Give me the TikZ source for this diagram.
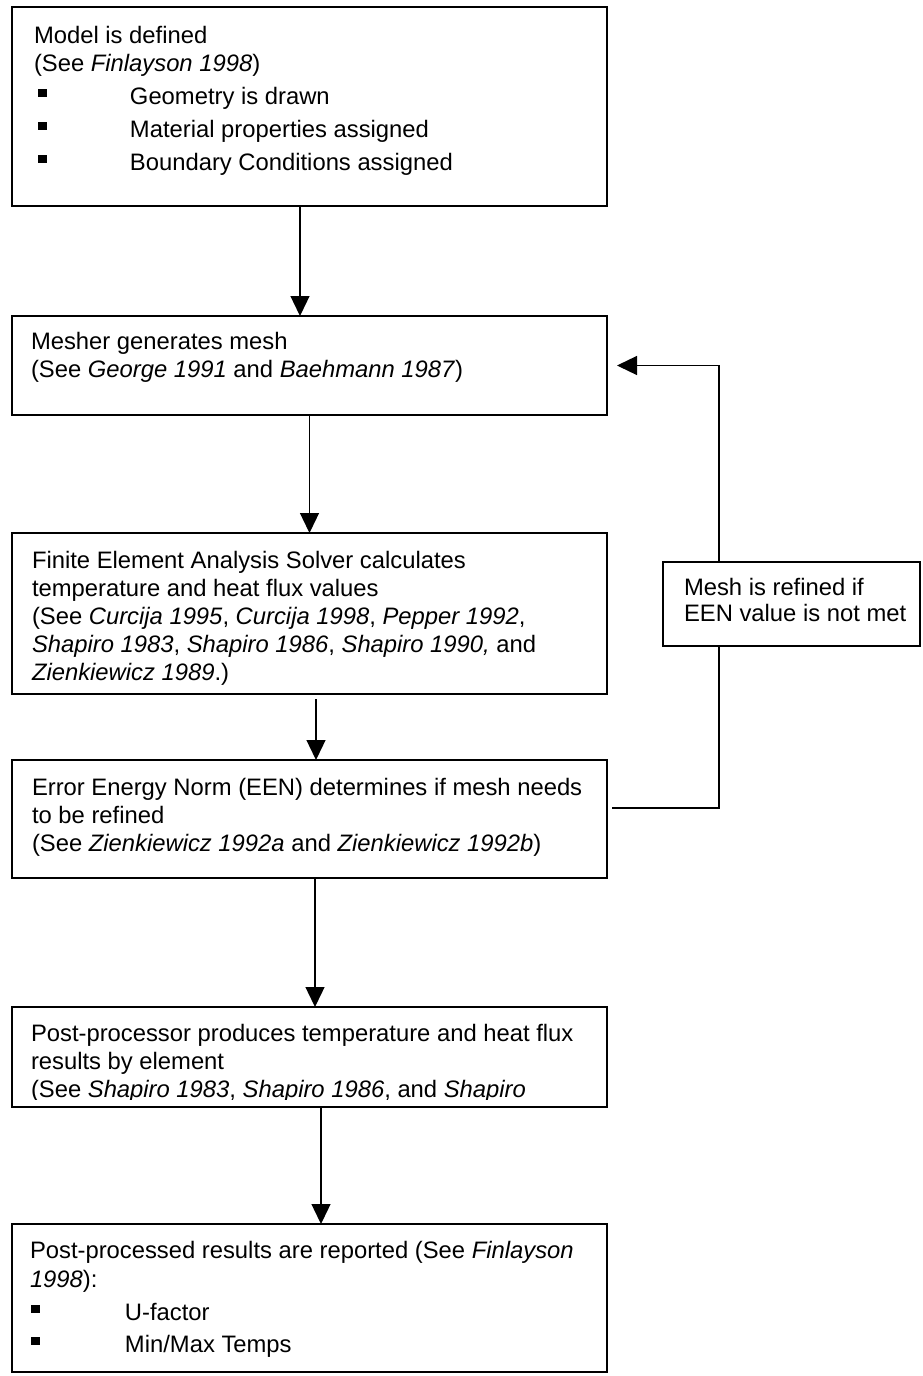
\documentclass[tikz,border=0pt]{standalone}
\usepackage{fontspec}
\setmainfont{Liberation Sans}
\usetikzlibrary{arrows.meta}
\newcommand\bulA{\makebox[96pt][l]{\hspace*{4pt}\rule[7pt]{9pt}{8.5pt}}}
\newcommand\bulB{\makebox[95pt][l]{\hspace*{1pt}\rule[7pt]{9pt}{8.5pt}}}
\newcommand\fstrut{\rule{0pt}{19pt}}
\begin{document}
\begin{tikzpicture}[x=1pt,y=-1pt,
  box/.style={draw, line width=1.8pt, inner sep=0pt, outer sep=0pt, anchor=north west, minimum width=595pt},
  txt/.style={anchor=north west, inner sep=0pt, outer sep=0pt, align=left, font=\fontsize{23.8}{28}\selectfont},
  conn/.style={line width=1.3pt},
  arr/.style={conn, -{Triangle[length=20pt,width=19pt]}}]
\useasboundingbox (0,0) rectangle (922,1376);
\fill[white] (0,0) rectangle (922,1376);

% boxes
\node[box, minimum height=199pt] (b1) at (12,7) {};
\node[box, minimum height=99pt] (b2) at (12,316) {};
\node[box, minimum height=161pt] (b3) at (12,533) {};
\node[box, minimum height=118pt] (b4) at (12,760) {};
\node[box, minimum height=100pt] (b5) at (12,1007) {};
\node[box, minimum height=148pt] (b6) at (12,1224) {};
\node[box, minimum width=257pt, minimum height=84pt] (side) at (663,562) {};

% texts
\node[txt] (t1) at (34,24) {\fstrut Model is defined\\
(See \textit{Finlayson 1998})\\[5pt]
\bulA Geometry is drawn\\[5pt]
\bulA Material properties assigned\\[5pt]
\bulA Boundary Conditions assigned};

\node[txt] (t2) at (31,330) {\fstrut Mesher generates mesh\\
(See \textit{George 1991} and \textit{Baehmann 1987})};

\node[txt] (t3) at (32,549) {\fstrut Finite Element Analysis Solver calculates\\
temperature and heat flux values\\
(See \textit{Curcija 1995}, \textit{Curcija 1998}, \textit{Pepper 1992},\\
\textit{Shapiro 1983}, \textit{Shapiro 1986}, \textit{Shapiro 1990,} and\\
\textit{Zienkiewicz 1989}.)};

\node[txt] (t4) at (32,776) {\fstrut Error Energy Norm (EEN) determines if mesh needs\\
to be refined\\
(See \textit{Zienkiewicz 1992a} and \textit{Zienkiewicz 1992b})};

\begin{scope}
\clip (12,1007) rectangle (607,1099);
\node[txt] (t5) at (31,1022) {\fstrut Post-processor produces temperature and heat flux\\
results by element\\
(See \textit{Shapiro 1983}, \textit{Shapiro 1986}, and \textit{Shapiro}};
\end{scope}

\node[txt] (t6) at (30,1239) {\fstrut Post-processed results are reported (See \textit{Finlayson}\\[1pt]
\textit{1998}):\\[5pt]
\bulB U-factor\\[4pt]
\bulB Min/Max Temps};

\node[txt] (ts) at (684,576) {\fstrut Mesh is refined if\\[-2pt]
EEN value is not met};

% connectors
\draw[arr] ([xshift=-9.5pt]b1.south) -- ([xshift=-9.5pt]b2.north);
\draw[arr] (b2.south) -- (b3.north);
\draw[arr] ([xshift=6.5pt,yshift=-5pt]b3.south) -- ([xshift=6.5pt]b4.north);
\draw[arr] ([xshift=5.5pt]b4.south) -- ([xshift=5.5pt]b5.north);
\draw[arr] ([xshift=11.5pt]b5.south) -- ([xshift=11.5pt]b6.north);
\draw[conn] ([xshift=5pt,yshift=11pt]b4.east) -| ([xshift=56pt]side.south west);
\draw[arr] ([xshift=56pt]side.north west) |- ([xshift=10pt]b2.east);
\end{tikzpicture}
\end{document}
